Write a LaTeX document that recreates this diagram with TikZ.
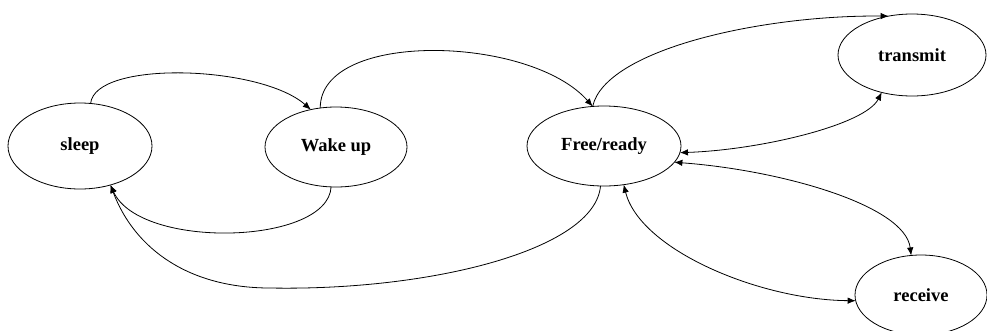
\documentclass[tikz,border=0pt]{standalone}
\usepackage{fontspec}
\setmainfont{Liberation Serif}
\usetikzlibrary{shapes.geometric,arrows.meta}
\begin{document}
\begin{tikzpicture}[x=1pt,y=-1pt,
  state/.style={draw,ellipse,line width=0.8pt,inner sep=0pt,outer sep=0pt,
    font=\fontsize{18.5}{20}\selectfont\bfseries},
  conn/.style={line width=0.8pt,-{Latex[length=8pt,width=6.5pt]}},
  bconn/.style={line width=0.8pt,{Latex[length=8pt,width=6.5pt]}-{Latex[length=8pt,width=6.5pt]}}]
\useasboundingbox (0,0) rectangle (987,330);
\node[state,minimum width=144pt,minimum height=86pt] (sleep) at (80,146) {sleep};
\node[state,minimum width=142pt,minimum height=80pt] (wake) at (336,147) {Wake up};
\node[state,minimum width=154pt,minimum height=80pt] (free) at (604,146) {Free/ready};
\node[state,minimum width=148pt,minimum height=82pt] (tx) at (912,55) {transmit};
\node[state,minimum width=132pt,minimum height=80pt] (rx) at (921,295) {receive};
\coordinate (low) at (270,288);
% sleep -> wake up
\draw[conn] (sleep.76) .. controls (95,60) and (260,65) .. (wake.124);
% wake up -> free
\draw[conn] (wake.112) .. controls (320,30) and (530,35) .. (free.106);
% wake up -> sleep
\draw[conn] (wake.-97) .. controls (328,245) and (140,250) .. (sleep.-52);
% free -> sleep
\draw[conn] (free.-95) .. controls (595,250) and (430,291) .. (low)
  .. controls (190,288) and (135,250) .. (sleep.-52);
% free -> transmit
\draw[conn] (free.106) .. controls (605,50) and (760,15) .. (tx.121);
% free <-> transmit
\draw[bconn] (free.-5) .. controls (760,150) and (865,125) .. (tx.-129);
% free <-> receive
\draw[bconn] (free.-13) .. controls (780,170) and (905,205) .. (rx.104);
\draw[bconn] (free.-63) .. controls (640,250) and (760,300) .. (rx.185);
\end{tikzpicture}
\end{document}
